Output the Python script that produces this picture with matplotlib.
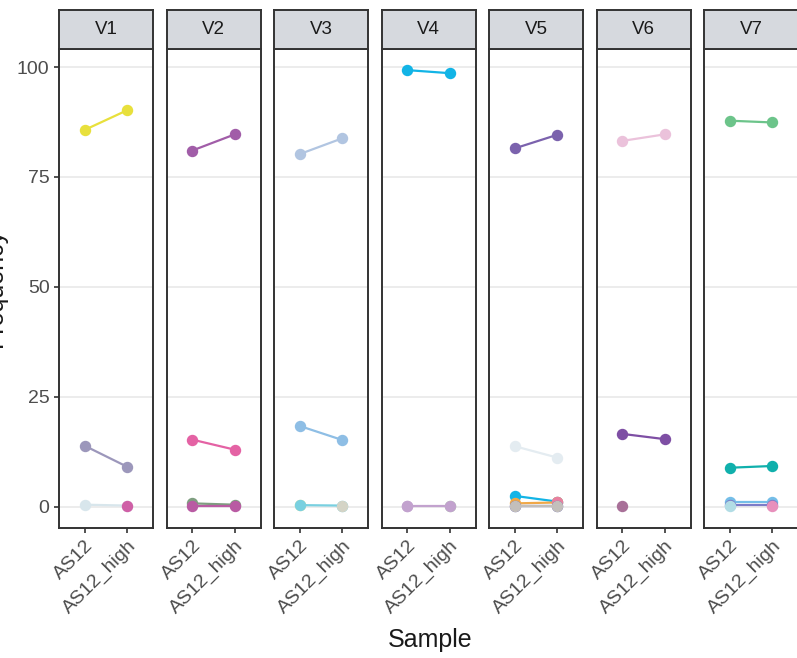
import matplotlib
matplotlib.use("Agg")
import matplotlib.pyplot as plt

plt.rcParams['font.family'] = ['Liberation Sans', 'DejaVu Sans']

samples = ["AS12", "AS12_high"]
panels = ["V1", "V2", "V3", "V4", "V5", "V6", "V7"]

# values per panel: list of series [AS12, AS12_high]
V1_vals = [[85.7, 90.2], [13.9, 9.1], [0.5, 0.3], [None, 0.2]]
V2_vals = [[81.0, 84.7], [15.3, 13.0], [0.8, 0.5], [0.2, 0.2]]
V3_vals = [[80.2, 83.8], [18.4, 15.2], [0.4, None], [0.4, 0.3], [None, 0.3]]
V4_vals = [[99.3, 98.6], [0.2, None], [None, 0.3], [0.2, 0.2]]
V5_vals = [[81.5, 84.6], [13.8, 11.2], [2.5, 1.2], [0.8, 1.0], [None, 1.0], [0.3, 0.3], [0.3, 0.3]]
V6_vals = [[83.2, 84.7], [16.6, 15.4], [0.2, None]]
V7_vals = [[87.8, 87.4], [8.9, 9.3], [1.0, 1.0], [0.5, 0.5], [0.2, None], [None, 0.2]]

V1_cols = ['#E8E03C', '#9C97BB', '#D8E6EC', '#CF5FA6']
V2_cols = ['#A15DA8', '#E462A4', '#7E9E80', '#B95BA3']
V3_cols = ['#B1C5E1', '#8EBEE5', '#F2E48A', '#79D0E0', '#D4D4C6']
V4_cols = ['#12B4E6', '#C2A2CE', '#A7D4A0', '#C2A2CE']
V5_cols = ['#7B62AD', '#E4ECF1', '#12B4E6', '#F0A848', '#E97FA0', '#5B5BB0', '#C3BFBB']
V6_cols = ['#EBC2DB', '#7E4FA4', '#A87098']
V7_cols = ['#6CC48A', '#10B0AC', '#74BEE8', '#7C7CC8', '#B2DDE5', '#E890BC']

all_vals = [V1_vals, V2_vals, V3_vals, V4_vals, V5_vals, V6_vals, V7_vals]
all_cols = [V1_cols, V2_cols, V3_cols, V4_cols, V5_cols, V6_cols, V7_cols]

W, H = 797, 658
fig = plt.figure(figsize=(W / 100, H / 100), dpi=100)

left0, step, pw = 59, 107.5, 94
top, bottom = 49, 528
strip_top = 10

for i, name in enumerate(panels):
    lx = left0 + i * step
    ax = fig.add_axes([lx / W, (H - bottom) / H, pw / W, (bottom - top) / H])
    ax.set_xlim(0.4, 2.6)
    ax.set_ylim(-4.8, 104.1)
    for yv in [0, 25, 50, 75, 100]:
        ax.axhline(yv, color='#EBEBEB', lw=1.3, zorder=0)
    for vals, c in zip(all_vals[i], all_cols[i]):
        xs = [j + 1 for j, v in enumerate(vals) if v is not None]
        ys = [v for v in vals if v is not None]
        ax.plot(xs, ys, color=c, lw=1.6, marker='o', ms=7.2, mec=c, zorder=3)
    ax.set_xticks([1, 2])
    ax.set_xticklabels(samples, rotation=45, ha='right', rotation_mode='anchor',
                       fontsize=14, color='#4D4D4D')
    ax.set_yticks([0, 25, 50, 75, 100])
    if i == 0:
        ax.set_yticklabels(['0', '25', '50', '75', '100'], fontsize=14, color='#4D4D4D')
    else:
        ax.tick_params(axis='y', left=False, labelleft=False)
    ax.tick_params(axis='both', length=3.8, width=1.2, color='#333333', pad=3)
    for sp in ax.spines.values():
        sp.set_color('#333333')
        sp.set_linewidth(1.4)
    # strip
    sax = fig.add_axes([lx / W, (H - top) / H, pw / W, (top - strip_top) / H])
    sax.set_xticks([]); sax.set_yticks([])
    sax.set_facecolor('#D6D9DE')
    for sp in sax.spines.values():
        sp.set_color('#333333')
        sp.set_linewidth(1.4)
    sax.text(0.5, 0.5, name, ha='center', va='center', fontsize=13.5, color='#1A1A1A',
             transform=sax.transAxes)

fig.text(430 / W, 1 - 640 / H, "Sample", ha='center', va='center', fontsize=18, color='#1A1A1A')
fig.text(-5 / W, 1 - 288 / H, "Frequency", ha='center', va='center', rotation=90,
         fontsize=18, color='#1A1A1A')

fig.savefig("out.png", dpi=100)
